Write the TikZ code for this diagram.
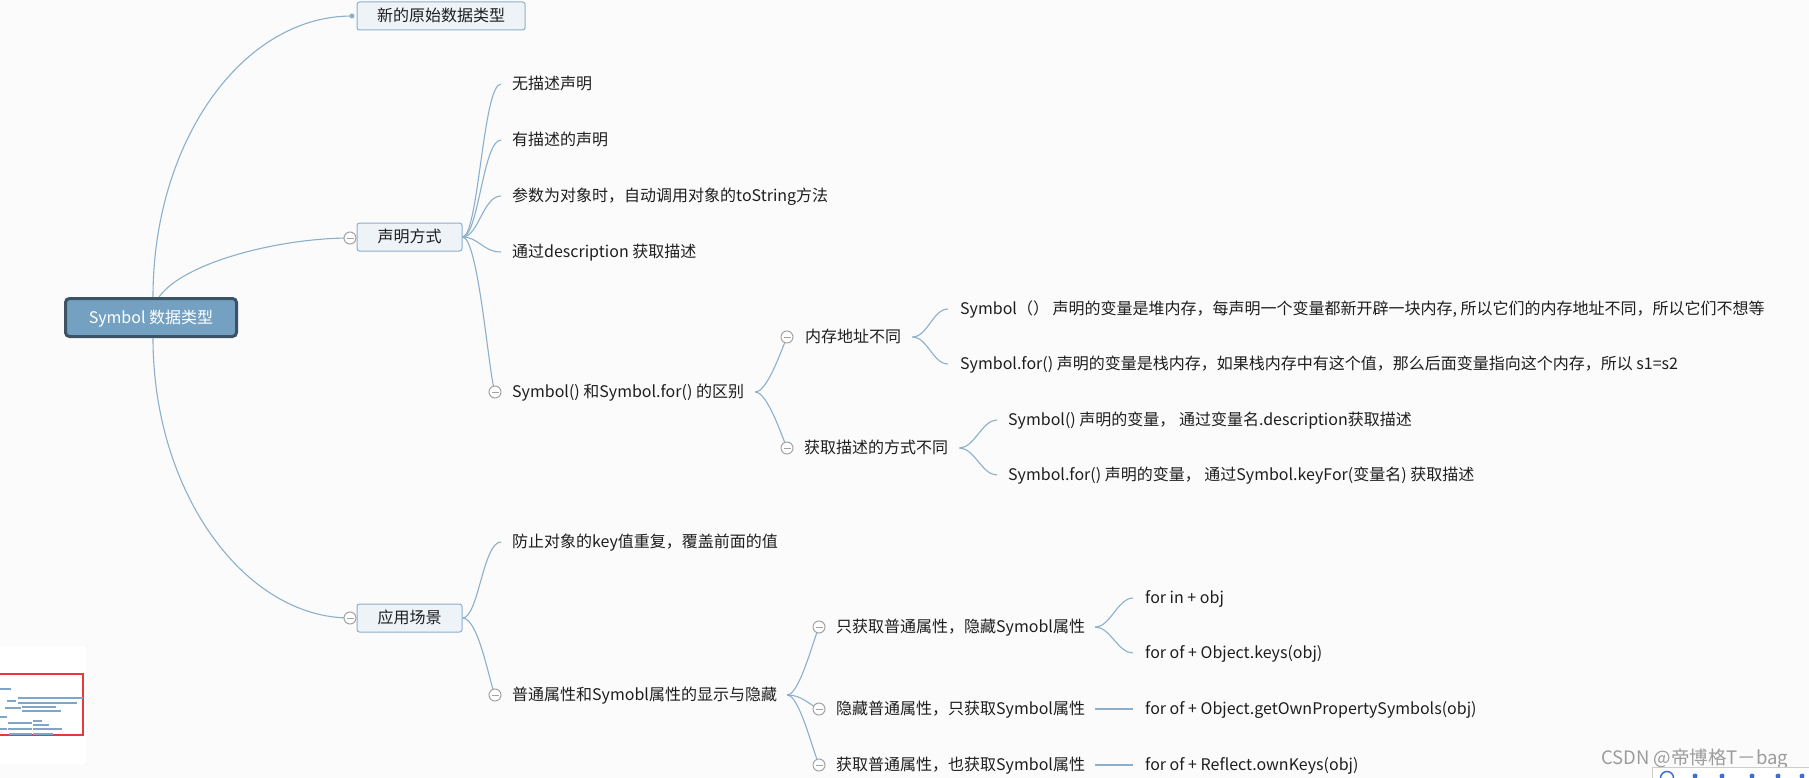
\documentclass[tikz,border=0pt]{standalone}
\usepackage{fontspec}
\setmainfont{Noto Sans CJK SC}
\definecolor{bg}{HTML}{FBFBFB}
\definecolor{conn}{HTML}{8CB0CC}
\definecolor{boxfill}{HTML}{EEF3F8}
\definecolor{boxdraw}{HTML}{8BAFCC}
\definecolor{rootfill}{HTML}{74A1C2}
\definecolor{rootdraw}{HTML}{3C5366}
\definecolor{circ}{HTML}{A3A3A3}
\definecolor{ink}{HTML}{1E1E1E}
\definecolor{wm}{HTML}{9C9C9C}
\definecolor{mapblue}{HTML}{7FA6C6}
\definecolor{mapred}{HTML}{E8383D}
\definecolor{toolblue}{HTML}{3A6FD8}
\begin{document}
\begin{tikzpicture}[x=1pt,y=-1pt,
  conn/.style={draw=conn, line width=1.1pt},
  txt/.style={anchor=west, inner sep=0pt, font=\fontsize{16}{19}\selectfont, text=ink, text height=12.5pt, text depth=1.5pt},
  topic/.style={draw=boxdraw, fill=boxfill, rounded corners=2.5pt, line width=1pt, inner sep=0pt, minimum height=28pt, font=\fontsize{16}{19}\selectfont, text=ink, text height=12.5pt, text depth=1.5pt},
  rootbox/.style={draw=rootdraw, fill=rootfill, rounded corners=4pt, line width=3pt, inner sep=0pt, minimum width=171pt, minimum height=38pt, font=\fontsize{16}{19}\selectfont, text=white, text height=12.5pt, text depth=1.5pt},
  fold/.style={circle, draw=circ, fill=white, line width=1pt, minimum size=12pt, inner sep=0pt,
    path picture={\draw[circ, line width=1pt] ([xshift=-3.5pt]path picture bounding box.center) -- ([xshift=3.5pt]path picture bounding box.center);}},
  mapline/.style={draw=mapblue, line width=2pt},
]
\fill[bg] (0,0) rectangle (1809,778);
\useasboundingbox (0,0) rectangle (1809,778);

% topics
\node[rootbox] (root) at (151,317.5) {Symbol 数据类型};
\node[topic, minimum width=168pt] (s1) at (441,16) {新的原始数据类型};
\node[topic, minimum width=105pt] (s2) at (409.5,237) {声明方式};
\node[topic, minimum width=105pt] (s3) at (409.5,618) {应用场景};
\node[circle, fill=conn, inner sep=0pt, minimum size=5pt] (dot) at (352,16) {};

% text nodes
\node[txt] (a1) at (512,84) {无描述声明};
\node[txt] (a2) at (512,140) {有描述的声明};
\node[txt] (a3) at (512,196) {参数为对象时，自动调用对象的toString方法};
\node[txt] (a4) at (512,252) {通过description 获取描述};
\node[txt] (b0) at (512,392) {Symbol() 和Symbol.for() 的区别};
\node[txt] (b1) at (805,337) {内存地址不同};
\node[txt] (b2) at (804,448) {获取描述的方式不同};
\node[txt] (c1) at (960,309) {Symbol（） 声明的变量是堆内存，每声明一个变量都新开辟一块内存, 所以它们的内存地址不同，所以它们不想等};
\node[txt] (c2) at (960,364) {Symbol.for() 声明的变量是栈内存，如果栈内存中有这个值，那么后面变量指向这个内存，所以 s1=s2};
\node[txt] (d1) at (1008,420) {Symbol() 声明的变量， 通过变量名.description获取描述};
\node[txt] (d2) at (1008,475) {Symbol.for() 声明的变量， 通过Symbol.keyFor(变量名) 获取描述};
\node[txt] (e1) at (512,542) {防止对象的key值重复，覆盖前面的值};
\node[txt] (e2) at (512,695) {普通属性和Symobl属性的显示与隐藏};
\node[txt] (g1) at (836,627) {只获取普通属性，隐藏Symobl属性};
\node[txt] (g2) at (836,709) {隐藏普通属性，只获取Symbol属性};
\node[txt] (g3) at (836,765) {获取普通属性，也获取Symbol属性};
\node[txt] (h1) at (1145,598) {for in + obj};
\node[txt] (h2) at (1145,653) {for of + Object.keys(obj)};
\node[txt] (h3) at (1145,709) {for of + Object.getOwnPropertySymbols(obj)};
\node[txt] (h4) at (1145,765) {for of + Reflect.ownKeys(obj)};

% fold circle positions
\coordinate (p1) at (350,238);
\coordinate (p2) at (350,618);
\coordinate (p3) at (495,392);
\coordinate (p4) at (787,337);
\coordinate (p5) at (787,448);
\coordinate (p6) at (495,695);
\coordinate (p7) at (819,627);
\coordinate (p8) at (819,709);
\coordinate (p9) at (819,765);

% connectors from root
\draw[conn] ([xshift=2pt]root.north) .. controls +(0,-155) and +(-110,0) .. (dot.center);
\draw[conn] ([xshift=8pt]root.north) .. controls +(25,-35) and +(-70,0) .. (p1);
\draw[conn] ([xshift=2pt]root.south) .. controls +(0,155) and +(-105,0) .. (p2);

% 声明方式
\foreach \t in {a1,a2,a3,a4}
  \draw[conn] (s2.east) .. controls +(16,0) and +(-18,0) .. ([xshift=-11pt]\t.west);
\draw[conn] (s2.east) .. controls +(16,0) and +(-6,-14) .. (p3);

% 应用场景
\draw[conn] (s3.east) .. controls +(16,0) and +(-18,0) .. ([xshift=-11pt]e1.west);
\draw[conn] (s3.east) .. controls +(16,0) and +(-6,-14) .. (p6);

% Symbol() 和 Symbol.for()
\draw[conn] ([xshift=11pt]b0.east) .. controls +(12,0) and +(-6,14) .. (p4);
\draw[conn] ([xshift=11pt]b0.east) .. controls +(12,0) and +(-6,-14) .. (p5);
\foreach \t in {c1,c2}
  \draw[conn] ([xshift=11pt]b1.east) .. controls +(15,0) and +(-15,0) .. ([xshift=-12pt]\t.west);
\foreach \t in {d1,d2}
  \draw[conn] ([xshift=11pt]b2.east) .. controls +(15,0) and +(-15,0) .. ([xshift=-11pt]\t.west);

% 普通属性
\draw[conn] ([xshift=10pt]e2.east) .. controls +(12,0) and +(-6,14) .. (p7);
\draw[conn] ([xshift=10pt]e2.east) .. controls +(14,0) and +(-12,-6) .. (p8);
\draw[conn] ([xshift=10pt]e2.east) .. controls +(12,0) and +(-6,-14) .. (p9);
\foreach \t in {h1,h2}
  \draw[conn] ([xshift=10pt]g1.east) .. controls +(15,0) and +(-15,0) .. ([xshift=-12pt]\t.west);
\draw[conn] ([xshift=10pt]g2.east) -- ([xshift=-12pt]h3.west);
\draw[conn] ([xshift=10pt]g3.east) -- ([xshift=-12pt]h4.west);

% fold circles on top
\foreach \i in {1,...,9}
  \node[fold] (f\i) at (p\i) {};

% minimap
\filldraw[fill=white, draw=black!7, rounded corners=2pt] (-4,645) rectangle (87,765);
\draw[mapred, line width=1.3pt] (-2,674) rectangle (83,735);
\draw[mapline] (0,689) -- (11,689);
\draw[mapline] (7,701) -- (16,701);
\draw[mapline] (18,698) -- (83,698);
\draw[mapline] (18,703) -- (77,703);
\draw[mapline] (5,708) -- (21,708);
\draw[mapline] (22,707) -- (56,707);
\draw[mapline] (22,711) -- (61,711);
\draw[mapline] (0,717) -- (7,717);
\draw[mapline] (33,721) -- (42,721);
\draw[mapline] (8,723) -- (32,723);
\draw[mapline] (33,725) -- (49,725);
\draw[mapline] (0,729) -- (7,729);
\draw[mapline] (8,729) -- (32,729);
\draw[mapline] (33,729) -- (62,729);
\draw[mapline] (9,734) -- (32,734);
\draw[mapline] (33,734) -- (53,734);

% watermark and toolbar
\node[anchor=west, inner sep=0pt, text=wm, font=\fontsize{18.5}{20}\selectfont] (wmark) at (1601,759) {CSDN @帝博格T－bag};
\filldraw[fill=white, draw=black!20] (1652,767) rectangle (1815,785);
\draw[toolblue, line width=1.5pt] (1667,778) circle (6.5);
\foreach \x in {1695,1722,1752,1778,1802}
  \fill[toolblue] (\x,776) circle (2.5);
\end{tikzpicture}
\end{document}
